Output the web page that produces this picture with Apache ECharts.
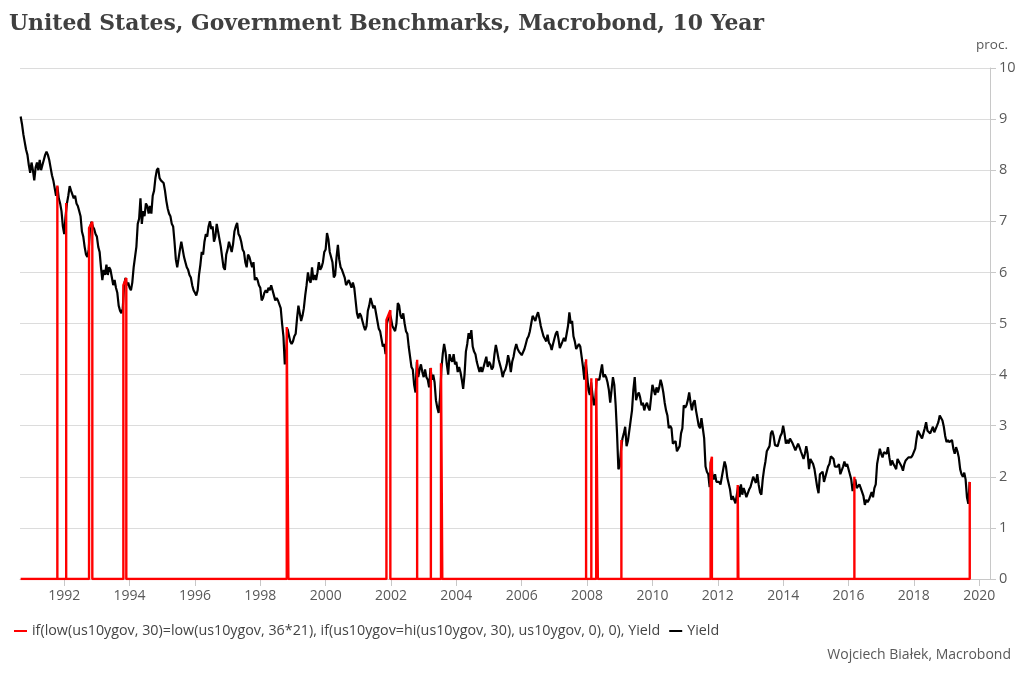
<!DOCTYPE html>
<html>
<head>
<meta charset="utf-8">
<script src="https://cdn.jsdelivr.net/npm/echarts@6/dist/echarts.min.js"></script>
<style>
html,body{margin:0;padding:0;background:#fff;}
#chart{width:1024px;height:678px;}
</style>
</head>
<body>
<div id="chart"></div>
<script>
// ---- data ----
const titleText = 'United States, Government Benchmarks, Macrobond, 10 Year';
const redName = 'if(low(us10ygov, 30)=low(us10ygov, 36*21), if(us10ygov=hi(us10ygov, 30), us10ygov, 0), 0), Yield';
const blackName = 'Yield';
const xTickYears = [1992,1994,1996,1998,2000,2002,2004,2006,2008,2010,2012,2014,2016,2018,2020];
const yTicks = [0,1,2,3,4,5,6,7,8,9,10];
// first observation: 1 Sep 1990, then twice per month (1st and 16th)
const firstYear = 1990, firstMonth = 9;
const yieldValues = [
 9.05,8.9,8.7,8.55,8.4,8.3,8.1,7.95,
 8.15,8.0,7.8,8.05,8.15,8.0,8.2,8.0,8.1,8.2,8.3,8.36,8.3,8.2,8.05,7.9,7.8,7.65,7.5,7.68,7.45,7.35,7.2,6.9,
 6.75,7.1,7.35,7.5,7.69,7.6,7.6,7.45,7.5,7.35,7.3,7.2,7.1,6.8,6.7,6.5,6.35,6.3,6.45,6.87,6.99,6.9,6.85,6.75,
 6.7,6.5,6.4,6.1,5.85,6.05,5.95,6.15,5.95,6.1,6.05,5.9,5.75,5.85,5.7,5.6,5.35,5.25,5.2,5.3,5.75,5.89,5.75,5.8,
 5.7,5.65,5.8,6.1,6.3,6.5,6.95,7.05,7.45,6.95,7.2,7.1,7.35,7.3,7.15,7.3,7.15,7.5,7.6,7.85,8.0,8.04,7.85,7.8,
 7.8,7.75,7.6,7.4,7.25,7.15,7.1,6.95,6.9,6.6,6.25,6.1,6.1,6.45,6.6,6.45,6.3,6.2,6.1,6.05,5.95,5.9,5.75,5.65,
 5.6,5.55,5.65,5.95,6.15,6.4,6.35,6.6,6.75,6.7,6.9,7.0,6.85,6.9,6.6,6.7,6.95,6.8,6.65,6.5,6.3,6.1,6.05,6.35,
 6.45,6.6,6.5,6.4,6.55,6.8,6.9,6.97,6.75,6.7,6.6,6.45,6.4,6.2,6.1,6.35,6.3,6.2,6.1,6.2,5.85,5.9,5.85,5.75,
 5.7,5.45,5.5,5.6,5.65,5.6,5.7,5.65,5.75,5.65,5.55,5.45,5.5,5.45,5.45,5.3,5.0,4.75,4.2,4.4,4.9,4.9,4.65,4.6,
 4.65,4.75,4.8,5.1,5.35,5.2,5.05,5.15,5.3,5.55,5.75,6.0,5.85,5.8,6.1,5.85,5.95,5.85,6.0,6.2,6.05,6.1,6.2,6.4,
 6.45,6.77,6.65,6.4,6.3,6.2,5.9,5.95,6.3,6.54,6.25,6.1,6.05,6.05,5.9,5.75,5.8,5.85,5.85,5.7,5.8,5.7,5.45,5.2,
 5.1,5.2,5.15,5.05,4.95,4.87,4.95,5.25,5.35,5.5,5.4,5.3,5.35,5.2,5.05,4.9,4.85,4.7,4.55,4.6,4.4,5.0,5.1,5.2,
 5.1,4.95,4.95,4.85,5.0,5.4,5.35,5.15,5.1,5.2,5.0,4.85,4.8,4.55,4.35,4.15,4.1,3.8,3.65,4.25,3.95,4.1,4.2,4.05,
 3.95,4.1,3.95,3.9,3.75,4.13,3.9,4.0,3.85,3.5,3.35,3.25,3.55,4.1,4.4,4.6,4.45,4.2,4.0,4.4,4.3,4.25,4.4,4.2,
 4.25,4.05,4.15,4.05,3.9,3.72,4.0,4.45,4.6,4.81,4.7,4.87,4.55,4.45,4.4,4.25,4.15,4.05,4.15,4.05,4.15,4.25,4.35,4.15,
 4.25,4.2,4.1,4.15,4.4,4.58,4.45,4.3,4.2,4.1,3.95,4.05,4.1,4.2,4.38,4.25,4.05,4.25,4.35,4.5,4.6,4.5,4.45,4.45,
 4.38,4.35,4.5,4.6,4.7,4.75,4.85,5.0,5.15,5.1,5.05,5.15,5.22,5.1,4.95,4.85,4.75,4.7,4.65,4.78,4.62,4.58,4.48,4.6,
 4.7,4.8,4.85,4.7,4.52,4.55,4.65,4.72,4.65,4.8,4.95,5.22,5.0,5.05,4.75,4.65,4.5,4.5,4.6,4.55,4.35,4.15,3.9,4.25,
 4.0,3.7,3.6,3.85,3.6,3.4,3.5,3.9,3.9,3.9,4.05,4.2,3.95,4.0,3.95,3.85,3.7,3.45,3.7,3.95,3.8,3.4,2.85,2.15,
 2.2,2.55,2.75,2.85,2.98,2.6,2.7,2.9,3.1,3.3,3.7,3.95,3.5,3.6,3.65,3.55,3.4,3.45,3.3,3.4,3.45,3.35,3.3,3.55,
 3.8,3.7,3.6,3.75,3.65,3.75,3.9,3.8,3.65,3.45,3.3,3.2,2.95,3.0,2.95,2.65,2.65,2.7,2.5,2.5,2.6,2.85,2.95,3.4,
 3.35,3.4,3.5,3.65,3.45,3.3,3.45,3.5,3.3,3.15,3.0,2.95,3.15,2.95,2.75,2.2,2.1,2.05,1.8,2.3,2.05,1.95,2.05,1.9,
 1.9,1.9,1.85,2.0,2.0,2.3,2.2,1.98,1.95,1.75,1.55,1.62,1.6,1.48,1.5,1.82,1.6,1.85,1.65,1.78,1.7,1.6,1.62,1.75,
 1.8,1.9,2.0,2.0,1.88,2.05,1.85,1.7,1.65,1.95,2.15,2.3,2.5,2.5,2.6,2.85,2.9,2.8,2.62,2.6,2.6,2.7,2.8,2.85,
 3.0,2.85,2.65,2.72,2.65,2.75,2.78,2.65,2.62,2.52,2.55,2.65,2.58,2.5,2.5,2.35,2.45,2.6,2.45,2.15,2.35,2.32,2.25,2.15,
 2.15,1.8,1.68,2.05,2.05,2.1,1.9,1.88,2.1,2.2,2.25,2.4,2.4,2.35,2.2,2.18,2.2,2.25,2.05,2.05,2.2,2.3,2.2,2.25,
 2.25,2.05,1.95,1.72,1.85,1.95,1.78,1.8,1.85,1.78,1.8,1.62,1.45,1.55,1.5,1.55,1.58,1.7,1.6,1.78,1.85,2.25,2.4,2.55,
 2.45,2.38,2.48,2.45,2.45,2.58,2.38,2.22,2.32,2.25,2.2,2.15,2.35,2.32,2.25,2.2,2.12,2.25,2.32,2.3,2.38,2.35,2.38,2.42,
 2.45,2.55,2.75,2.9,2.85,2.85,2.75,2.85,2.95,3.07,2.9,2.92,2.85,2.85,2.98,2.87,2.9,3.0,3.07,3.2,3.15,3.1,2.98,2.8,
 2.68,2.72,2.68,2.65,2.72,2.55,2.45,2.58,2.5,2.38,2.15,2.05,2.0,2.08,1.95,1.6,1.47,1.9
];
// red series: dates (decimal years) where it equals the yield, 0 elsewhere
const spikeStart = [1991.79,1992.06,1992.76,1993.81,1998.81,2001.86,2002.80,2003.22,2003.53,2007.97,2008.13,2008.28,2009.05,2011.78,2012.61,2016.18,2019.71];
const spikeEnd   = [1991.79,1992.06,1992.86,1993.90,1998.86,2001.98,2002.80,2003.22,2003.57,2007.97,2008.13,2008.33,2009.05,2011.82,2012.63,2016.18,2019.71];
const spikeStartValue = [7.7,7.36,6.87,5.75,4.93,5.07,4.29,4.13,4.22,4.3,3.93,3.93,2.72,2.27,1.84,2.0,1.9];
const spikeEndValue   = [7.7,7.36,6.99,5.89,4.93,5.26,4.29,4.13,4.22,4.3,3.93,3.93,2.72,2.39,1.84,2.0,1.9];

// ---- build ----
const t0 = firstYear + (firstMonth - 1) / 12;
const blackData = yieldValues.map((v, i) => [t0 + i / 24, v]);
const redData = [[t0, 0]];
for (let i = 0; i < spikeStart.length; i++) {
  redData.push([spikeStart[i], 0], [spikeStart[i], spikeStartValue[i]], [spikeEnd[i], spikeEndValue[i]], [spikeEnd[i], 0]);
}

const chart = echarts.init(document.getElementById('chart'), null, {renderer: 'canvas'});
const labelFont = '"Open Sans", "Noto Sans", sans-serif';
chart.setOption({
  animation: false,
  backgroundColor: '#ffffff',
  title: {
    text: titleText, left: 4, top: 8,
    textStyle: {fontFamily: '"DejaVu Serif", serif', fontWeight: 'bold', fontSize: 21.9, color: '#404040'}
  },
  legend: {
    left: 9, top: 619, itemWidth: 13, itemHeight: 2, itemGap: 9, icon: 'rect',
    data: [redName, blackName],
    textStyle: {fontFamily: labelFont, fontSize: 14.3, color: '#444'}
  },
  graphic: [
    {type: 'text', right: 16, top: 38, style: {text: 'proc.', font: '13.5px "Open Sans", sans-serif', fill: '#595959'}},
    {type: 'text', right: 13, top: 648, style: {text: 'Wojciech Białek, Macrobond', font: '14px "Open Sans", sans-serif', fill: '#595959'}}
  ],
  grid: {left: 20, right: 34, top: 68, bottom: 99, containLabel: false},
  xAxis: {
    type: 'value', min: 1990.647, max: 2020.33,
    axisLine: {show: true, lineStyle: {color: '#c8c8c8', width: 1}},
    axisTick: {show: true, customValues: xTickYears, length: 7, lineStyle: {color: '#c8c8c8'}},
    axisLabel: {customValues: xTickYears, formatter: v => String(Math.round(v)), fontFamily: labelFont, fontSize: 14, color: '#595959', margin: 10},
    splitLine: {show: false}
  },
  yAxis: {
    type: 'value', position: 'right', min: 0, max: 10, interval: 1,
    axisLine: {show: true, lineStyle: {color: '#c8c8c8', width: 1}},
    axisTick: {show: true, length: 6, lineStyle: {color: '#c8c8c8'}},
    axisLabel: {fontFamily: labelFont, fontSize: 14.5, color: '#595959', margin: 9},
    splitLine: {show: true, lineStyle: {color: '#dcdcdc', width: 1}}
  },
  series: [
    {name: redName, type: 'line', data: redData, showSymbol: false, symbol: 'none', z: 4,
     color: '#ff0000', lineStyle: {color: '#ff0000', width: 2.4, join: 'bevel'}},
    {name: blackName, type: 'line', data: blackData, showSymbol: false, symbol: 'none', z: 3,
     color: '#000000', lineStyle: {color: '#000000', width: 2.2}}
  ]
});
</script>
</body>
</html>
